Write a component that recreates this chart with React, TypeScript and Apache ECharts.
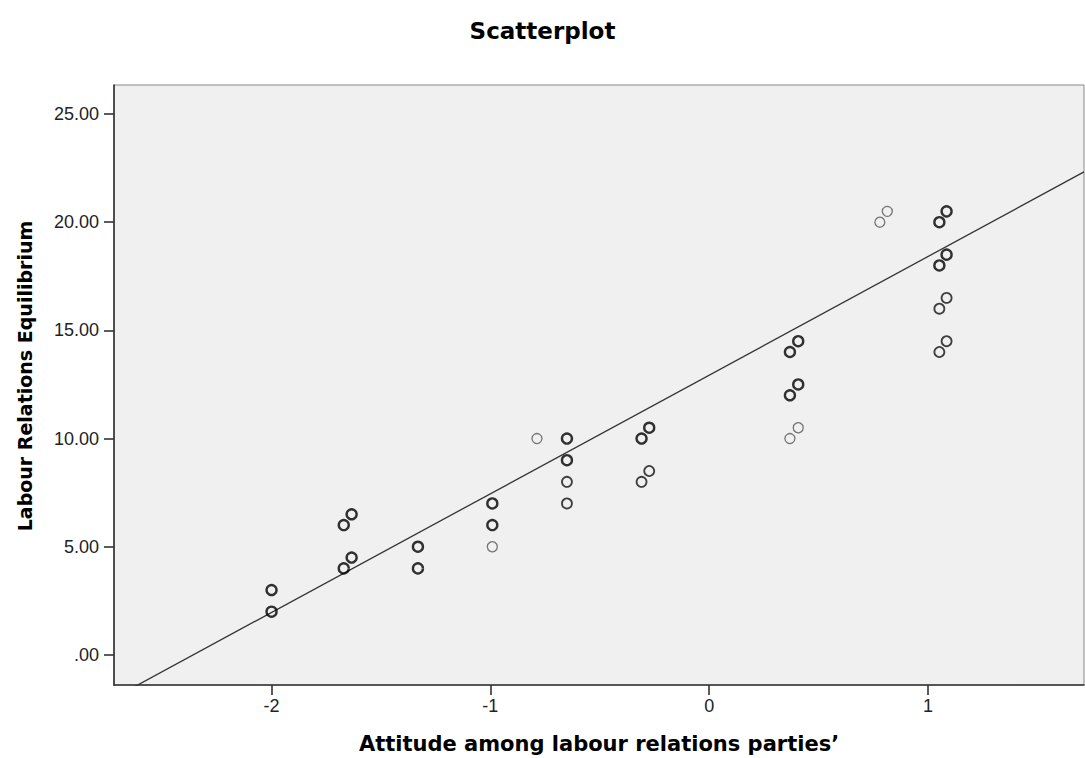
import React, { useEffect, useRef } from "react";
import * as echarts from "echarts";

// Points drawn heavily (several overlapping cases)
const heavyPoints: [number, number][] = [
  [-2.0, 3], [-2.0, 2],
  [-1.67, 6], [-1.634, 6.5], [-1.67, 4], [-1.634, 4.5],
  [-1.331, 5], [-1.331, 4],
  [-0.991, 7], [-0.991, 6],
  [-0.65, 10], [-0.65, 9],
  [-0.309, 10], [-0.274, 10.5],
  [0.369, 14], [0.407, 14.5], [0.369, 12], [0.407, 12.5],
  [1.052, 20], [1.085, 20.5], [1.052, 18], [1.085, 18.5],
];
// Points drawn with medium weight
const mediumPoints: [number, number][] = [
  [-0.65, 8], [-0.65, 7],
  [-0.309, 8], [-0.274, 8.5],
  [1.052, 16], [1.085, 16.5], [1.052, 14], [1.085, 14.5],
];
// Single points (light grey)
const lightPoints: [number, number][] = [
  [-0.991, 5], [-0.787, 10],
  [0.369, 10], [0.407, 10.5],
  [0.78, 20], [0.814, 20.5],
];

const fitIntercept = 12.93;
const fitSlope = 5.483;

const xMin = -2.72;
const xMax = 1.713;
const yMin = -1.39;
const yMax = 26.34;
const xTicks = [-2, -1, 0, 1];
const yTicks = [0, 5, 10, 15, 20, 25];

export default function App() {
  const ref = useRef<HTMLDivElement>(null);
  useEffect(() => {
    if (!ref.current) return;
    const chart = echarts.init(ref.current, null, { renderer: "svg" });
    const fitLine = [xMin, xMax].map((x) => [x, fitIntercept + fitSlope * x]);
    const circle = (color: string, width: number) => ({
      type: "scatter" as const,
      symbol: "circle",
      symbolSize: 10,
      itemStyle: { color: "rgba(0,0,0,0)", borderColor: color, borderWidth: width },
      z: 3,
    });
    const titleFont = { fontFamily: "DejaVu Sans", fontWeight: "bold" as const, color: "#000" };
    chart.setOption({
      animation: false,
      backgroundColor: "#ffffff",
      title: {
        text: "Scatterplot",
        left: "center",
        top: 14,
        textStyle: { ...titleFont, fontSize: 23 },
      },
      grid: {
        left: 114,
        right: 1,
        top: 85,
        bottom: 73,
        containLabel: false,
        outerBoundsMode: "none",
        show: true,
        backgroundColor: "#f0f0f0",
        borderColor: "#888",
        borderWidth: 1,
      },
      xAxis: {
        type: "value",
        min: xMin,
        max: xMax,
        name: "Attitude among labour relations parties’",
        nameLocation: "middle",
        nameGap: 48,
        nameMoveOverlap: false,
        nameTextStyle: { ...titleFont, fontSize: 21 },
        splitLine: { show: false },
        axisLine: { show: true, onZero: false, lineStyle: { color: "#333", width: 1.6 } },
        axisTick: { show: true, inside: false, customValues: xTicks, length: 10, lineStyle: { color: "#333", width: 1.6 } },
        axisLabel: {
          customValues: xTicks,
          formatter: (v: number) => String(Math.round(v)),
          fontFamily: "Liberation Sans",
          fontSize: 18,
          color: "#222",
          margin: 12,
        },
      },
      yAxis: {
        type: "value",
        min: yMin,
        max: yMax,
        name: "Labour Relations Equilibrium",
        nameLocation: "middle",
        nameGap: 80,
        nameMoveOverlap: false,
        nameTextStyle: { ...titleFont, fontSize: 19, padding: [0, 0, 0, 18] },
        splitLine: { show: false },
        axisLine: { show: true, onZero: false, lineStyle: { color: "#333", width: 1.6 } },
        axisTick: { show: true, inside: false, customValues: yTicks, length: 10, lineStyle: { color: "#333", width: 1.6 } },
        axisLabel: {
          customValues: yTicks,
          formatter: (v: number) => (Math.abs(v) < 1e-9 ? ".00" : v.toFixed(2)),
          fontFamily: "Liberation Sans",
          fontSize: 18,
          color: "#222",
          margin: 15,
        },
      },
      series: [
        {
          type: "line",
          data: fitLine,
          symbol: "none",
          lineStyle: { color: "#333", width: 1.3 },
          z: 2,
          silent: true,
        },
        { ...circle("#000", 2.4), data: heavyPoints },
        { ...circle("#111", 1.8), data: mediumPoints },
        { ...circle("#555", 1.3), data: lightPoints },
      ],
    });
    return () => chart.dispose();
  }, []);
  return (
    <div
      ref={ref}
      style={{ position: "fixed", left: 0, top: 0, width: 1085, height: 758 }}
    />
  );
}
